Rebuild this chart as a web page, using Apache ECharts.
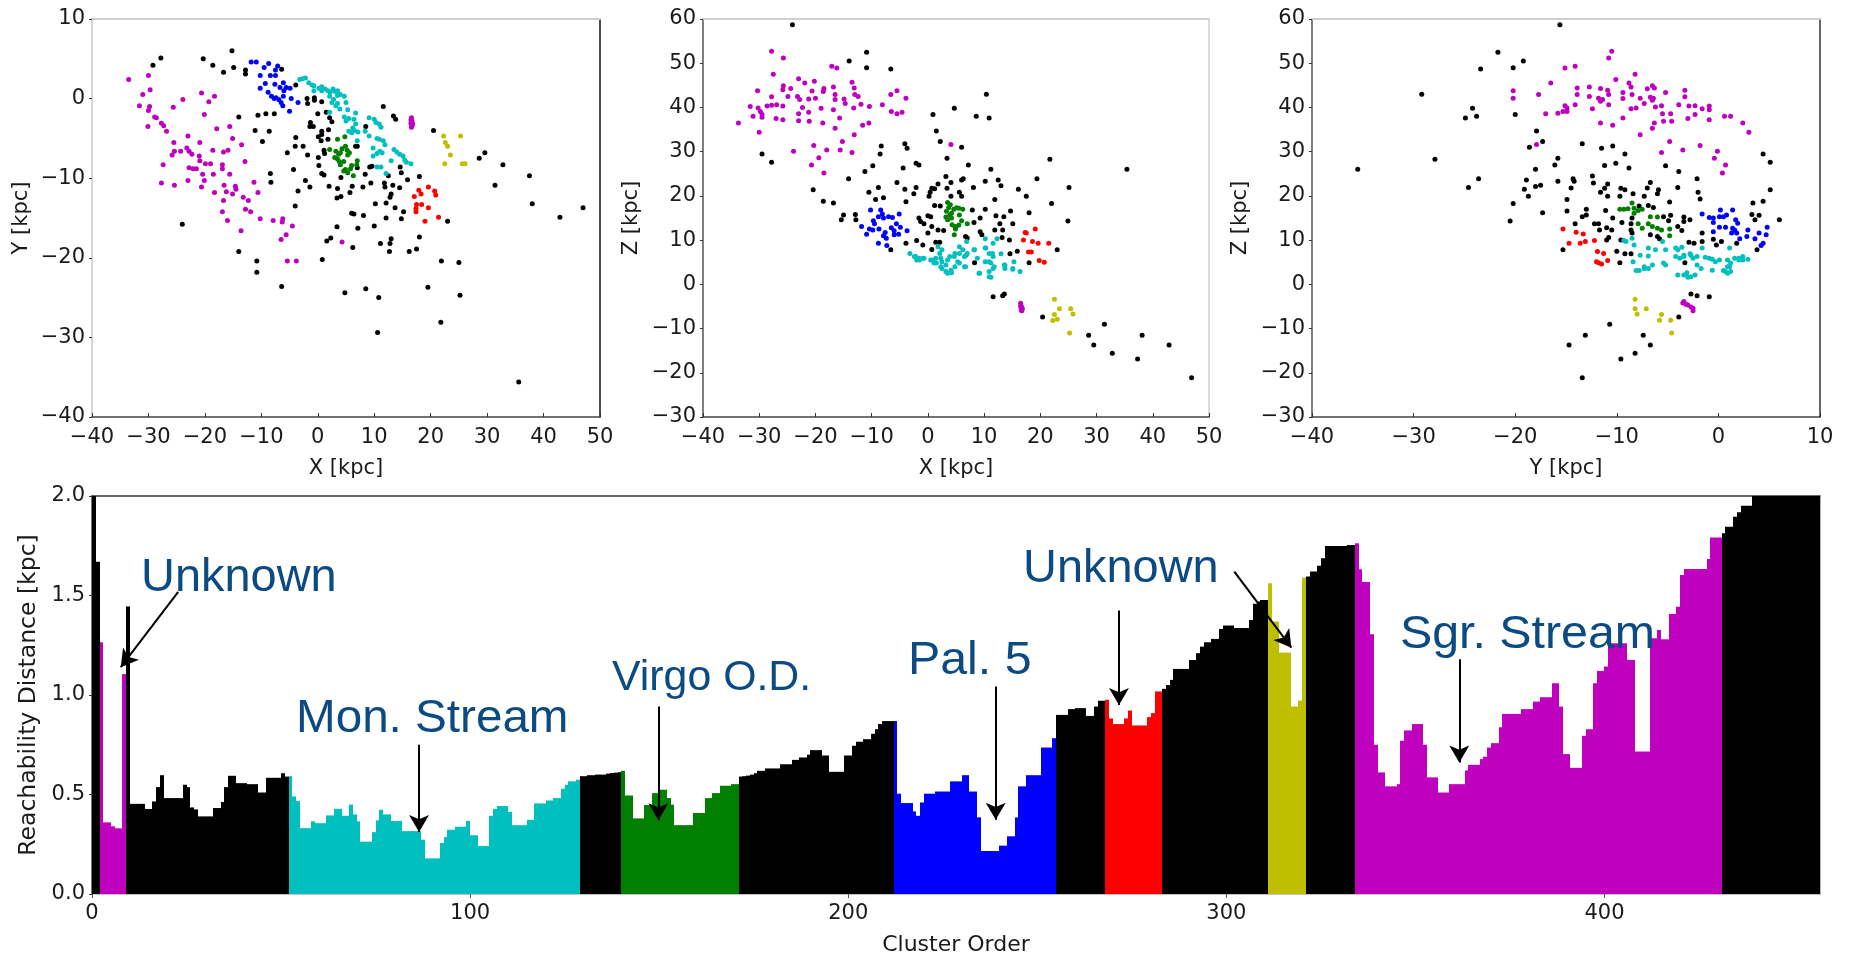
<!DOCTYPE html>
<html><head><meta charset="utf-8">
<style>html,body{margin:0;padding:0;background:#fff}#c{width:1849px;height:956px}</style>
<script src="https://cdn.jsdelivr.net/npm/echarts@6/dist/echarts.min.js"></script>
</head><body><div id="c"></div>
<script>
// ---------- X-Y panel ----------
const xyNoise=[[-27.8,5.1],[-29.2,4.2],[-20.3,5],[-18.6,4.2],[-16.7,3.3],[-15.2,6],[-14.9,3.9],[-12.8,3.6],[-12.8,3.1],[-6.4,3.7],[-3.9,1.7],[-1.9,0],[-1.8,-.6],[-.6,.1],[-.6,-.2],[.7,-.4],[-14,-2.3],[-10.6,-2.1],[-9.2,-1.9],[-7.7,-1.9],[0,-1.9],[1.5,-1.7],[2.1,-2.4],[2.5,-2.9],[-1.3,-3],[-1.4,-3.5],[-.8,-3.5],[-11.1,-4],[-8.6,-4.1],[1.9,-3.9],[.7,-4.1],[.7,-4.5],[-3.9,-4.9],[.1,-4.8],[.6,-5.3],[1.8,-5.1],[8.5,-3.5],[11.6,-1],[13.4,-2.2],[13.8,-2.6],[20.5,-4],[-9.8,-5.4],[-4,-6],[-2.6,-6],[-5.4,-6.8],[-1.8,-7.1],[.1,-7.4],[1.1,-6.5],[1.2,-6.9],[.2,-8.4],[7,-6],[6.7,-6],[9.2,-8.6],[9.6,-8.5],[-4.3,-8.9],[-8.4,-9.4],[.7,-9.4],[1.1,-9.6],[8.4,-9.5],[7,-8.7],[4.1,-9.9],[14.6,-8.6],[14.8,-9.3],[18,-9.8],[12.5,-9.7],[15.9,-10.2],[-8.3,-10.5],[-2.2,-10.3],[-1.4,-11.1],[-3.5,-11.6],[2,-11],[3.5,-11.3],[6.1,-11],[5.7,-11.8],[8,-11.1],[9.4,-10.6],[11.8,-10.6],[11.9,-11.1],[13.3,-10.9],[14.5,-11.2],[13,-12],[12.8,-12.4],[12.1,-13.1],[10.2,-13.2],[3.4,-12.5],[4.1,-12.3],[-4,-13.5],[13.7,-13.7],[15.2,-14.2],[14.8,-15.1],[12.1,-15],[23,-15.4],[6,-14.4],[6.4,-14.5],[8.1,-14.7],[7.1,-16.3],[3.4,-16.1],[10,-16],[-24,-15.8],[2.3,-17.5],[1.6,-17.9],[11.1,-18.2],[13,-17.6],[12.8,-18.2],[6.2,-18.7],[12.7,-19.2],[16.2,-19.2],[17.5,-18.9],[18,-17.4],[-14,-19.2],[-10.8,-20.4],[-10.8,-21.8],[.8,-20.2],[21.9,-20.4],[25,-20.6],[-6.4,-23.6],[4.8,-24.4],[8.5,-23.9],[10.8,-25],[19.5,-23.7],[25.2,-24.7],[21.8,-28.1],[10.6,-29.4],[35.6,-35.6],[28.6,-7.5],[29.6,-6.8],[32.8,-8.3],[37.5,-9.7],[31.4,-10.9],[38,-13.2],[42.9,-14.9],[47,-13.7]];
const xySgr=[[-33.5,2.4],[-30,2.9],[-29.7,1.1],[-31,.5],[-31.6,-.9],[-29.8,-1],[-30,-1.5],[-28.9,-2.3],[-28.6,-2.4],[-30.1,-3.5],[-27.7,-3.1],[-27.3,-3.4],[-26.8,-4.1],[-25.6,-1.1],[-23.9,-.1],[-20.6,.7],[-18.3,.3],[-19.3,-.4],[-20.1,-2],[-17.9,-3.8],[-15.6,-3.5],[-15.1,-5],[-13.5,-5.8],[-23,-4.7],[-20.9,-5.5],[-25.5,-5.5],[-25.8,-7.1],[-25.4,-6.6],[-24.3,-6.6],[-23.2,-6.2],[-22.8,-6.6],[-22.3,-7],[-21,-7.2],[-20.9,-7.8],[-27.4,-8.3],[-22.8,-8.7],[-22.1,-8.8],[-21.5,-8.8],[-19.9,-8.2],[-19,-8.2],[-18.6,-6.5],[-16.7,-6.7],[-15.9,-6.5],[-16.9,-8.3],[-16.9,-8.8],[-12.9,-7.9],[-20.4,-9.5],[-18.5,-9.5],[-15.6,-9.5],[-20.1,-10.3],[-23,-10.3],[-27.7,-10.6],[-25.4,-10.9],[-20.6,-11.1],[-18.3,-11.8],[-16.6,-10.9],[-16.2,-11.7],[-14.6,-11],[-14.5,-11.4],[-11.3,-10.5],[-10.6,-11.8],[-15.1,-12],[-13.2,-12.4],[-12.3,-12.8],[-16.7,-12.8],[-12.8,-13.9],[-11.9,-14.2],[-16.9,-14.2],[-16,-15.3],[-10.2,-15.1],[-7.9,-15.3],[-6.2,-15.1],[-6.3,-15.5],[-4.5,-16],[-13.6,-16.6],[-5.6,-17.1],[-6.5,-17.7],[-5.4,-20.4],[-3.8,-20.4],[4.3,-18],[16.6,-2.4],[16.7,-2.8],[16.5,-3.1],[16.7,-3.4],[16.6,-3.6],[16.5,-2.7],[16.8,-3.2]];
const xyPal5=[[-11.8,4.6],[-10.9,4.6],[-8.7,4.4],[-7.1,4.1],[-9.5,3.9],[-7.5,3.6],[-10.2,2.9],[-8.4,2.9],[-7.5,2.9],[-9.3,1.9],[-10.2,1.3],[-7.6,1.8],[-6.1,2],[-6.7,1.4],[-5.6,1.4],[-4.9,1.3],[-8.8,.8],[-8.2,.3],[-7.7,0],[-6.9,-.1],[-6.1,.3],[-6.5,-.5],[-6.2,-.9],[-4.7,0],[-3.5,-.5],[-5,-1.6],[-6,1],[-7.4,.1]];
const xyMon=[[-3.2,2.4],[-2.2,2.6],[-1.6,2],[-.7,1.6],[-.7,1],[.7,1.5],[.7,1],[1.8,1],[2.7,1.2],[3.5,1],[4,.5],[2.1,.3],[2.8,-.1],[4.7,.3],[5,-.5],[3.2,-.9],[3.9,-1.3],[2.1,-1.7],[5.3,-1.4],[6.7,-1.8],[4.7,-2.3],[5,-2.8],[6.4,-2.6],[6.7,-3.2],[5.5,-4.1],[6.2,-3.7],[7.1,-4.2],[7,-5.3],[9.1,-2.4],[10,-2.6],[10.9,-3.2],[11.2,-3.6],[8.4,-4.1],[9.1,-4.7],[10.5,-5],[11.6,-5.3],[9.8,-6.2],[10.5,-6.9],[11.4,-6.8],[11.9,-5.8],[13.5,-6.4],[14,-6.7],[15.1,-7.2],[13,-7.8],[15.4,-7.7],[16.5,-8.2],[11.2,-8.6],[10.5,-8.6],[12.1,-9.4],[9.8,-7.2],[-2.7,2.5],[-1,1.7],[.2,1.3],[1.3,1.2],[2.2,.8],[3.1,.9],[3.5,.4],[2.5,-.5],[3.5,-.6],[5.5,-2.5],[6,-4.3],[6.5,-4],[10.3,-3],[11,-6.6],[10.9,-5.1],[14.5,-7],[15.7,-8]];
const xyVirgo=[[3.5,-5.1],[4.8,-4.8],[2.1,-6.4],[3.2,-6.6],[4.9,-6],[3.7,-7],[5.6,-6.8],[3.5,-7.6],[4.6,-7.9],[7,-7.8],[6.9,-8.3],[4,-8.3],[6,-8.4],[4.9,-8.9],[5.3,-9.3],[6.3,-9.7],[3,-7.4],[5.3,-7.1],[4.3,-6.3],[4,-6.8],[5.2,-6.5],[5.8,-8.8],[4.6,-9.1],[3.8,-7.9]];
const xyRed=[[17.1,-12.3],[17.9,-11.5],[18.3,-12],[19.6,-11.1],[20.7,-11.6],[20.9,-12.1],[17.5,-13.3],[18.4,-13.3],[19.6,-13.7],[17.4,-14.2],[19,-15.4],[21.4,-14.9],[17.4,-13.8]];
const xyYellow=[[22.3,-4.7],[25.3,-4.7],[22.6,-5.5],[23,-6],[23.5,-7.1],[22.5,-8.2],[25.6,-8.2],[26.1,-8.2]];
// ---------- X-Z panel ----------
const xzNoise=[[-24.1,58.7],[-10.9,52.5],[-14,50.5],[-10.9,49],[-6.6,48.7],[10.4,43],[4.7,39.8],[8.6,38],[10.9,37.6],[.9,38.4],[1.5,34.7],[2.2,32.3],[6,31],[3.4,28.5],[-4.1,31.8],[-3.7,30.8],[-8.3,31.3],[-8.5,29.5],[-29.5,29.5],[-27.8,27.6],[-9.8,26.8],[-11.2,25.5],[-4.4,26.3],[-2.1,27.4],[-1.6,27],[7.2,27],[11.2,26],[21.7,28.3],[35.4,26],[-14.1,23.9],[-8.8,21.9],[-10.5,20.8],[-5.5,23],[-4.1,21.5],[-2.1,21.9],[-2.5,20.5],[-3.9,18.7],[-9.3,19.2],[-7.9,19.6],[-20.4,21.4],[-18.6,18.8],[-16.8,18.4],[3.2,24.4],[1.8,22.7],[.7,21.7],[1.2,21.6],[.4,20.8],[.2,19.9],[4.1,23],[3.4,21.7],[4.1,19.9],[5.6,20.8],[6,19.9],[6,23.6],[6.3,23.9],[8.1,21.9],[10.2,23.3],[12.5,23.6],[13,22.3],[11.9,19.2],[16.1,21.5],[17.5,19.9],[19.4,23.9],[25.1,21.9],[22,18.3],[18,16.2],[-15,15.7],[-15.4,14.6],[-12.9,15.8],[-12.8,14.6],[1.2,17.8],[2.2,17.7],[0,15.5],[.5,15.3],[-1.6,15],[-1.3,14.2],[-.7,13.7],[.7,13.1],[0,11.6],[1.8,12.3],[2.8,12.2],[7.9,16.8],[10.2,17],[9.3,15],[8.2,14],[12.1,15.5],[13.5,15.3],[14.7,16.6],[12.8,13.7],[11.9,12.3],[13.3,12.3],[15.1,13.7],[9.3,11.9],[9.6,11.2],[6.7,10.8],[7,10.5],[13.2,10.6],[14.5,10],[15.9,7.5],[14.6,6.9],[23,7.8],[24.9,14.3],[18,4.9],[8.3,4.9],[1.4,9.5],[2.1,9.5],[-.9,8.9],[-2,9.9],[-3.9,9.3],[.7,7.9],[-6.6,7.8],[11.6,-2.8],[13.6,-2.2],[13.3,-2.6],[20.4,-7.4],[31.4,-9],[28.6,-11.5],[29.5,-13.7],[38.1,-11.5],[42.9,-13.7],[32.8,-15.6],[37.3,-16.9],[46.9,-21.1]];
const xzSgr=[[-27.8,52.7],[-25.7,51.2],[-27.5,47.5],[-17.1,49.3],[-16.2,48.9],[-23,46.5],[-21.9,45.5],[-20.2,45.9],[-13.5,45.7],[-13.1,44.4],[-16.8,44.6],[-18.5,44.3],[-20.6,43.7],[-25.7,44.9],[-25.8,44],[-24.4,44.3],[-30.3,43.8],[-27.8,42.4],[-24.9,42.5],[-23.2,42.5],[-22.8,41.8],[-16.5,42.9],[-16.5,41.8],[-14.9,41.9],[-13,42.9],[-12.4,42.5],[-21.2,41.9],[-20,42.1],[-18.6,43.6],[-31.6,40.2],[-30.2,39.9],[-29.8,39.1],[-28.6,40.3],[-27.8,40.5],[-26.9,40.6],[-25.8,40.3],[-31.1,38],[-29.5,38.4],[-29.5,37.8],[-22.3,40],[-19,39.8],[-16.8,39.5],[-14.7,40.9],[-13.2,39.9],[-11.9,40.7],[-10.4,40.2],[-8.1,40.6],[-6.6,42.9],[-5.5,43.8],[-3.9,42.1],[-6.5,39.1],[-5.5,38.6],[-4.6,38.9],[-23,38.6],[-21.2,38.9],[-27,37.5],[-25.8,37.2],[-33.7,36.5],[-23,37],[-21.1,36.9],[-18.7,36.5],[-15.7,37.6],[-16.5,35.3],[-11.6,36],[-10.5,36.5],[-30,34.4],[-13.1,33.8],[-15.2,32.3],[4.1,31.6],[-20.3,31.4],[-18,30.4],[-15.6,30.4],[-13.5,29.8],[-23.9,30.1],[-19.4,28.6],[-20.7,27],[-18.5,25.2],[16.5,-4.3],[16.6,-4.9],[16.7,-5.3],[16.6,-5.8],[16.7,-6],[16.5,-5],[16.8,-5.5]];
const xzPal5=[[-10.2,16.8],[-8.4,16.8],[-5.1,15.9],[-8.1,15.9],[-8.8,15.3],[-7,15.3],[-6.3,15.1],[-9.7,14.4],[-5.6,13.7],[-11.8,13.1],[-10.4,12.5],[-9.5,13.7],[-8.7,12.5],[-6.5,12.8],[-4.9,12.9],[-3.7,12.1],[-7.6,11.7],[-6,12.1],[-10.9,11.3],[-7.9,11],[-5.2,11.3],[-7.4,10.4],[-8.8,9.3],[-7.3,8.8],[-6,11.2],[-9.8,12.3],[-7.9,15]];
const xzMon=[[-3.2,7],[-2.2,6.3],[-1.6,5.9],[-.7,5.9],[-2,5.5],[.5,5.5],[1.4,5.9],[1.8,8.5],[2.5,7.8],[2.5,5.1],[1.1,4.8],[3.2,4.4],[3.5,2.5],[4.2,2.6],[2.5,3.6],[3.5,5.5],[4.8,7],[5.3,5.1],[4.8,4],[6.5,4],[5.6,8.5],[6.5,6.3],[7,7],[6.9,9.7],[8.2,7.8],[8.8,5.9],[10.2,8.2],[10.2,10.3],[11.6,9.3],[12.3,10.3],[10.9,7],[10.2,5.1],[11.6,6.3],[11.2,4.8],[9.1,2.5],[10.9,2.9],[11.2,1.6],[11.6,3.6],[13,6.9],[13.7,4.4],[13.7,3.6],[15.3,5.1],[15.1,3.4],[16.4,2.9],[2.1,7],[3.9,6.3],[-2.4,6.3],[-1.5,5.5],[-.9,5.9],[.9,5.5],[1.5,4.8],[2.3,4],[3.2,2.9],[4.1,3.2],[4.7,6.3],[5.6,7],[6.2,7.8],[6.8,6.6],[6.7,4],[8.3,7.8],[10.3,8.2],[11.5,7],[10.9,5.1],[11.8,4],[10.9,1.7],[9.2,2.5],[13.6,4.4],[15.1,3.6],[5.6,4.8],[2.3,5.9]];
const xzVirgo=[[3.5,18.5],[3.7,17.4],[5.1,17.3],[4.6,17],[6.2,17],[5.6,15.7],[3.2,15.2],[3.9,15.7],[4.8,13.1],[5.5,13.4],[7,13.7],[4.9,12.5],[6,14.4],[4.7,11.2],[3.5,14.6],[4.2,16.1],[4,18],[4.2,15],[4.3,13.5],[5.5,17.2],[3.3,16.5],[5,13]];
const xzRed=[[17.3,11.7],[19.1,12.5],[17,10],[18.6,9.7],[19.6,9.3],[21.5,9.3],[17.9,7.3],[18.4,7.3],[19.8,5.4],[20.7,5],[17.5,11.6]];
const xzYellow=[[22.5,-3.4],[23.4,-5.5],[25.4,-5.5],[25.8,-6.7],[22.5,-6.8],[22.2,-8.2],[23,-7.9],[25.2,-11]];
// ---------- Y-Z panel ----------
const yzNoise=[[-15.6,58.7],[-21.7,52.5],[-19.2,50.5],[-23.4,48.7],[-20.2,49],[-29.2,43],[-24.2,39.8],[-24.9,37.6],[-23.8,38],[-20,38.4],[-17.9,34.7],[-17.3,32.3],[-18.6,31],[-13.4,31.8],[-11.5,30.8],[-10.4,31.3],[-9.2,29.5],[-27.9,28.3],[-35.5,26],[-23.6,23.9],[-24.6,21.9],[-20.2,18.3],[-20.5,14.3],[-17.3,16.2],[-15.8,28.5],[-16.1,27],[-18,26],[-18.9,23.6],[-19.1,21.5],[-18,22.1],[-17.5,22.4],[-18.7,19.9],[-15.8,23.3],[-14.3,23.9],[-14.2,23.3],[-14.5,21.8],[-14.9,19.2],[-14.9,16.6],[-11.2,26.9],[-10.1,27.4],[-8.8,26.3],[-12.4,24.5],[-12.3,22.9],[-10.9,22.7],[-11.2,21.7],[-11.6,20.8],[-10.9,19.9],[-9.6,21.7],[-9.2,21.4],[-9.7,19.9],[-8.4,20.5],[-6.7,23],[-7,21.8],[-7.3,19.9],[-5.9,21.4],[-6,20.5],[-5.2,26.8],[-3.9,25.5],[-4,21.9],[-2.1,23.9],[-2,20.8],[-1.8,19.3],[-4.8,18.6],[4.4,29.5],[5.1,27.6],[5.1,21.4],[4.4,18.8],[3.4,18.4],[3.3,15.8],[4,15.6],[3.6,14.6],[6,14.6],[3.8,7.8],[1.8,9.3],[.3,9.7],[-.2,8.9],[-.5,10.2],[-1.6,11.6],[-1.6,9.7],[-2.8,14.6],[-2.9,9.5],[-2.4,9.3],[-3.4,15.2],[-3.4,14.2],[-4,13.1],[-3.6,12.2],[-4.7,15.6],[-5.4,15.3],[-4.9,14.4],[-6.9,17.8],[-7.8,17.7],[-6.4,17.4],[-8.5,15],[-8.6,13.7],[-9.5,14],[-10.4,15],[-11.1,16.7],[-13,17],[-13,15.7],[-13.4,15.3],[-14.1,13.7],[-12.2,13.7],[-11.8,13.7],[-11.7,12.3],[-11,12.8],[-10.5,12.3],[-8.6,12.3],[-8.5,11.6],[-10.8,10.6],[-11,10],[-6.7,11.2],[-6,10.8],[-5.8,10.3],[-9.6,10],[-15.3,7.8],[-10,7.5],[-9.2,6.9],[-8.6,6.9],[-9.7,4.9],[-3.3,4.9],[-2.7,-2.2],[-2.1,-2.6],[-.9,-2.8],[-3.9,-7.4],[-10.7,-9],[-13.1,-11.5],[-7.4,-11.5],[-14.7,-13.7],[-6.7,-13.7],[-8.2,-15.6],[-9.6,-16.9],[-13.4,-21.1]];
const yzSgr=[[-10.5,52.7],[-10.8,51.2],[-14.1,49.3],[-15.1,48.9],[-8.2,47.5],[-10.1,46.3],[-16.5,45.5],[-8.8,45.5],[-8.6,44.6],[-13.9,44.4],[-20.2,43.8],[-20.2,42.1],[-17.7,42.9],[-13.9,42.9],[-12.7,44.6],[-12.7,42.5],[-11.6,44.3],[-10.9,43.9],[-10.8,42.9],[-9.4,43.4],[-9.4,42],[-8.5,42.9],[-7.7,42.1],[-7,44.2],[-6.5,44.9],[-6.3,44.4],[-5.2,43.4],[-3.3,43.9],[-3.3,42.4],[-11.8,42.1],[-11.4,41.8],[-11.6,41.4],[-6.7,42.3],[-6.4,42.1],[-6.5,41.6],[-10.8,40.6],[-12.4,39.7],[-14.1,40.6],[-15.1,40.4],[-14.9,39.9],[-15.3,39.1],[-14.9,39.1],[-15.8,38.7],[-17,38.6],[-7.3,40.9],[-8.6,39.7],[-8.1,39.9],[-5.6,40.4],[-6.2,40.1],[-3.9,40.6],[-2.9,40.3],[-2.3,40.4],[-1.6,39.7],[-.9,40.3],[-.9,39.5],[.6,38],[1.2,38],[-5.5,38.6],[-4.7,38.6],[-5.4,36.9],[-4.6,36.9],[-3,37.5],[-2.3,38.4],[-.9,37.2],[2.4,36.5],[3,34.4],[-9.4,37.6],[-11.6,36.5],[-10.4,36],[-6.3,36.5],[-6.5,35.3],[-7.7,33.8],[-17.9,31.6],[-4.8,32.3],[-3.5,30.4],[-1.8,31.4],[-5.6,29.8],[-.1,30.1],[-.4,28.5],[.7,27],[.4,25.2],[-3.5,-4.2],[-3.2,-4.5],[-3,-4.7],[-2.7,-5.1],[-2.5,-5.4],[-2.5,-6],[-3.4,-3.9]];
const yzPal5=[[-1.6,15.9],[-.9,15.1],[-.5,15],[.2,16.8],[.1,15.3],[.8,15.7],[1.4,16.8],[1.7,14.6],[1.9,13.8],[-.5,14],[-.5,11.9],[.1,12.9],[.7,12.9],[1.4,12.7],[1.3,11.6],[1.8,11.6],[2.1,10.3],[2.9,12.3],[2.8,10.8],[4,11.6],[3.6,10.3],[4.8,12.9],[4.7,11.2],[4.4,9.3],[4.2,8.8],[.5,15.3],[1.6,12.3]];
const yzMon=[[-9.3,9.9],[-8.5,10.4],[-8.3,8.9],[-8.4,5.1],[-7.7,6.6],[-7.8,3.1],[-7.3,3.6],[-6.5,4.4],[-6.9,8.2],[-6.9,6.4],[-6.2,7.8],[-5.4,4.8],[-5.2,7.8],[-5.5,9.7],[-4.2,8.2],[-4.2,6.3],[-3.8,5.9],[-4,2.1],[-3.1,2.6],[-3.6,8.4],[-3,1.6],[-2.3,2.1],[-2.8,6.9],[-2.5,5.9],[-1.6,8.2],[-2.1,4.4],[-1.7,3.6],[-.6,3.2],[-1.3,6.1],[-.6,5.7],[.1,5.5],[.9,5.5],[1.1,8.2],[.5,3.1],[1.1,4],[.9,2.5],[1.6,5.9],[2.4,6.3],[2.9,5.7],[2,5.5],[1.2,4.8],[-3.4,6.6],[-8.1,3.1],[-9.1,9.7],[.9,4],[.7,2.9],[1.2,2.9],[-3.4,6.3],[-2.7,6.6],[-2.1,6.3],[-7.3,4],[-6.9,3.6],[-5.2,4.4],[-4,7.8],[-.9,5.9],[-.3,5.1],[2,5.9],[2.4,5.5],[-2.7,1.7],[-3.4,2.1]];
const yzVirgo=[[-9.7,17],[-9.3,17],[-8.9,17.1],[-8.5,18.4],[-8.3,17.2],[-7.9,16.7],[-7.5,17],[-8.3,16.1],[-6.7,15.3],[-6,15.2],[-7.9,13.7],[-7.5,12.7],[-6.9,13.7],[-6.5,13.1],[-6,12.7],[-5.6,12.3],[-4.8,12.5],[-4.8,11]];
const yzRed=[[-15.3,12.5],[-14,11.8],[-13.3,11.4],[-12.2,9.9],[-14.7,9.3],[-13.6,9.3],[-13.1,9.7],[-11.9,7.4],[-11.3,7],[-12,5.1],[-11.5,4.6],[-10.9,5.4],[-11.8,4.9]];
const yzYellow=[[-8.2,-3.4],[-7.1,-5.5],[-8.2,-5.5],[-8,-6.7],[-5.6,-6.8],[-5.8,-8.1],[-4.7,-8.1],[-4.6,-11]];
// ---------- Reachability plot: one value per cluster-order position, segment by segment ----------
const reachA=[2.4,1.67];
const reachB=[1.265,.36,.36,.34,.33,.33,1.105];
const reachC=[1.445,.453,.453,.453,.453,.427,.427,.465,.537,.597,.482,.482,.482,.482,.482,.549,.537,.435,.425,.39,.39,.39,.39,.432,.432,.462,.537,.594,.594,.557,.557,.557,.552,.552,.552,.51,.51,.584,.584,.584,.584,.607,.59];
const reachD=[.592,.49,.467,.331,.331,.331,.365,.356,.356,.356,.395,.395,.428,.428,.393,.393,.449,.4,.365,.263,.263,.263,.311,.37,.423,.4,.4,.367,.367,.367,.316,.316,.316,.316,.316,.273,.179,.179,.179,.179,.256,.286,.323,.323,.338,.338,.338,.367,.295,.295,.241,.241,.241,.393,.427,.442,.442,.442,.413,.346,.346,.346,.346,.373,.373,.455,.455,.455,.47,.47,.482,.482,.529,.549,.566,.566,.574];
const reachE=[.592,.592,.597,.597,.6,.6,.6,.605,.608,.61,.612];
const reachF=[.619,.495,.495,.38,.38,.38,.447,.447,.507,.507,.524,.524,.482,.449,.346,.346,.346,.346,.346,.407,.407,.407,.482,.482,.507,.507,.544,.544,.544,.552,.552];
const reachG=[.59,.592,.595,.6,.607,.619,.619,.631,.631,.631,.631,.652,.652,.652,.674,.674,.686,.686,.7,.723,.723,.723,.696,.696,.614,.614,.614,.614,.696,.696,.745,.765,.765,.778,.778,.805,.828,.854,.869,.869,.869];
const reachH=[.869,.504,.457,.457,.457,.415,.393,.46,.504,.504,.504,.515,.515,.515,.515,.566,.566,.566,.597,.597,.515,.515,.385,.216,.216,.216,.216,.216,.243,.243,.29,.29,.385,.541,.541,.597,.597,.597,.597,.736,.736,.736,.783];
const reachI=[.9,.9,.9,.929,.929,.934,.934,.934,.895,.895,.942,.971,.971];
const reachJ=[.976,.882,.854,.854,.854,.882,.922,.847,.847,.847,.847,.889,.909,1.018,1.018];
const reachK=[1.031,1.05,1.076,1.131,1.131,1.131,1.131,1.176,1.176,1.21,1.243,1.265,1.265,1.282,1.282,1.332,1.349,1.349,1.349,1.337,1.337,1.337,1.337,1.377,1.458,1.47,1.478,1.478];
const reachL=[1.561,1.369,1.369,1.213,1.213,1.213,.942,.942,.972,1.59];
const reachM=[1.595,1.62,1.62,1.649,1.687,1.749,1.749,1.749,1.749,1.749,1.749,1.754,1.754];
const reachN=[1.762,1.632,1.568,1.568,1.305,.75,.611,.611,.541,.541,.541,.552,.77,.822,.822,.854,.854,.854,.75,.586,.586,.586,.51,.51,.51,.552,.552,.552,.552,.621,.649,.649,.649,.678,.69,.736,.758,.758,.838,.905,.905,.905,.905,.905,.929,.929,.929,.967,.967,.989,.989,.989,1.059,1.059,.942,.703,.703,.634,.634,.634,.795,.828,.828,1.059,1.121,1.121,1.143,1.26,1.26,1.26,1.26,1.26,1.176,1.176,.716,.716,.716,.716,1.285,1.285,1.327,1.28,1.28,1.407,1.407,1.444,1.603,1.633,1.633,1.633,1.633,1.633,1.633,1.684,1.792,1.792,1.792];
const reachO=[1.813,1.846,1.846,1.896,1.918,1.951,1.951,1.951,2.02,2.04,2.05,2.07,2.1,2.12,2.15,2.17,2.2,2.22,2.24,2.27,2.3,2.33,2.35,2.38,2.4,2.45];
const reachSegments=[['noise',reachA],['sgr',reachB],['noise',reachC],['mon',reachD],['noise',reachE],['virgo',reachF],['noise',reachG],['pal5',reachH],['noise',reachI],['red',reachJ],['noise',reachK],['yellow',reachL],['noise',reachM],['sgr',reachN],['noise',reachO]];
const yTicksBottom=['0.0','0.5','1.0','1.5','2.0'];
// annotation arrows in data units: [order, distance] -> [order, distance]
const arrows=[[[22.8,1.518],[7.6,1.14]],[[86.5,.75],[86.5,.312]],[[149.8,.942],[149.8,.37]],[[239,1.043],[239,.373]],[[271.6,1.424],[271.6,.95]],[[302.1,1.62],[317.2,1.238]],[[361.6,1.18],[361.6,.661]]];
const notes=[['Unknown',141,578,46,1.02],['Mon. Stream',296,719,46,1.035],['Virgo O.D.',612,678,42,1.02],['Pal. 5',908,661,46,1.05],['Unknown',1023,569,46,1.02],['Sgr. Stream',1400,635,46,1.05]];

const colours={noise:'#000000',sgr:'#bf00bf',pal5:'#0000ff',mon:'#00bfbf',virgo:'#007f00',red:'#ff0000',yellow:'#bfbf00'};
const names={noise:'Noise',sgr:'Sgr. Stream',pal5:'Pal. 5',mon:'Mon. Stream',virgo:'Virgo O.D.',red:'Unknown (red)',yellow:'Unknown (yellow)'};
const FONT='"DejaVu Sans"';
const minus=v=>String(v).replace('-','\u2212');
const TXT='#1a1a1a';
function frameAxis(pos,color,width,grid,min,max,interval,extra){
  const base={type:'value',gridIndex:grid,position:pos,min,max,interval,splitLine:{show:false},
    axisLine:{show:true,onZero:false,lineStyle:{color,width}},axisTick:{show:false},axisLabel:{show:false}};
  return Object.assign(base,extra||{});
}
const xLab={show:true,color:TXT,fontFamily:FONT,fontSize:21,margin:10,formatter:minus};
const yLab={show:true,color:TXT,fontFamily:FONT,fontSize:21,margin:7,formatter:minus};
const nameSt={color:TXT,fontFamily:FONT,fontSize:21};
const panels=[
 {l:92,r:600,t:19,b:417,x:[-40,50],y:[-40,10],xn:'X [kpc]',yn:'Y [kpc]',yg:60,data:[xyNoise,xySgr,xyPal5,xyMon,xyVirgo,xyRed,xyYellow],top:'#cfcfcf',left:'#c8c8c8',right:'#111',bottom:'#444'},
 {l:703,r:1209,t:19,b:417,x:[-40,50],y:[-30,60],xn:'X [kpc]',yn:'Z [kpc]',yg:61,data:[xzNoise,xzSgr,xzPal5,xzMon,xzVirgo,xzRed,xzYellow],top:'#cfcfcf',left:'#555',right:'#cfcfcf',bottom:'#444'},
 {l:1312,r:1820,t:19,b:417,x:[-40,10],y:[-30,60],xn:'Y [kpc]',yn:'Z [kpc]',yg:61,data:[yzNoise,yzSgr,yzPal5,yzMon,yzVirgo,yzRed,yzYellow],top:'#cfcfcf',left:'#555',right:'#333',bottom:'#444'}
];
const keys=['noise','sgr','pal5','mon','virgo','red','yellow'];
const grid=[],xAxis=[],yAxis=[],series=[];
panels.forEach((p,i)=>{
  grid.push({left:p.l,top:p.t,width:p.r-p.l,height:p.b-p.t,show:false,outerBoundsMode:'none'});
  xAxis.push(frameAxis('bottom',p.bottom,1.5,i,p.x[0],p.x[1],10,{name:p.xn,nameLocation:'middle',nameGap:41,nameTextStyle:nameSt,axisLabel:xLab,axisTick:{show:true,inside:true,length:4,lineStyle:{color:'#333'}}}));
  xAxis.push(frameAxis('top',p.top,2,i,p.x[0],p.x[1],10));
  yAxis.push(frameAxis('left',p.left,1.5,i,p.y[0],p.y[1],10,{name:p.yn,nameLocation:'middle',nameGap:p.yg,nameTextStyle:nameSt,axisLabel:yLab,axisTick:{show:true,inside:false,length:3,lineStyle:{color:'#333'}}}));
  yAxis.push(frameAxis('right',p.right,1.5,i,p.y[0],p.y[1],10));
  keys.forEach((k,j)=>series.push({type:'scatter',name:names[k]+' '+p.xn[0]+p.yn[0],xAxisIndex:i*2,yAxisIndex:i*2,data:p.data[j],symbolSize:5,itemStyle:{color:colours[k],opacity:1},silent:true,animation:false}));
});
// bottom reachability plot
grid.push({left:92,top:496,width:1728,height:398,show:false,outerBoundsMode:'none'});
xAxis.push(frameAxis('bottom','#b0b0b0',1.5,3,0,457,100,{name:'Cluster Order',nameLocation:'middle',nameGap:40,nameTextStyle:Object.assign({},nameSt,{fontSize:22}),axisLabel:Object.assign({},xLab,{showMaxLabel:false,margin:9}),axisTick:{show:true,inside:false,length:4,lineStyle:{color:'#555'}}}));
xAxis.push(frameAxis('top','#333',1.5,3,0,457,100));
yAxis.push(frameAxis('left','#444',1.5,3,0,2,.5,{name:'Reachability Distance [kpc]',nameLocation:'middle',nameGap:43,nameTextStyle:Object.assign({},nameSt,{fontSize:23.5}),axisLabel:Object.assign({},yLab,{formatter:(v,i)=>yTicksBottom[i]}),axisTick:{show:true,inside:false,length:3,lineStyle:{color:'#333'}}}));
yAxis.push(frameAxis('right','#999',1.5,3,0,2,.5));
const bars={};keys.forEach(k=>bars[k]=[]);
let pos=0;
reachSegments.forEach(([k,arr])=>arr.forEach(v=>{bars[k].push([pos,v]);pos++;}));
// each bar spans [order, order+1]; edges are snapped to whole pixels so neighbours join without seams
function drawBar(params,api){
  const i=api.value(0),v=api.value(1);
  const base=api.coord([i,0]),tip=api.coord([i+1,v]);
  const x0=Math.round(base[0]),x1=Math.round(tip[0]);
  return {type:'rect',shape:{x:x0,y:tip[1],width:x1-x0,height:base[1]-tip[1]},style:{fill:api.visual('color')}};
}
keys.forEach(k=>{
  const s={type:'custom',name:names[k]+' reachability',xAxisIndex:6,yAxisIndex:6,data:bars[k],encode:{x:0,y:1},renderItem:drawBar,clip:true,itemStyle:{color:colours[k]},silent:true,animation:false,z:2};
  if(k==='noise'){
    s.markLine={silent:true,animation:false,symbol:['none','arrow'],symbolSize:[15,17],precision:3,label:{show:false},lineStyle:{color:'#000',width:2,type:'solid'},
      data:arrows.map(a=>[{coord:a[0]},{coord:a[1]}]),z:20};
    s.z=3;
  }
  series.push(s);
});
const graphic=notes.map(n=>({type:'text',x:n[1],y:n[2],scaleX:n[4],z:50,silent:true,style:{text:n[0],fill:'#0b4a82',fontFamily:'"Liberation Sans"',fontSize:n[3],textAlign:'left',textVerticalAlign:'middle'}}));
const chart=echarts.init(document.getElementById('c'),null,{renderer:'canvas'});
chart.setOption({animation:false,backgroundColor:'#fff',grid,xAxis,yAxis,series,graphic,tooltip:{show:false}});
</script></body></html>
